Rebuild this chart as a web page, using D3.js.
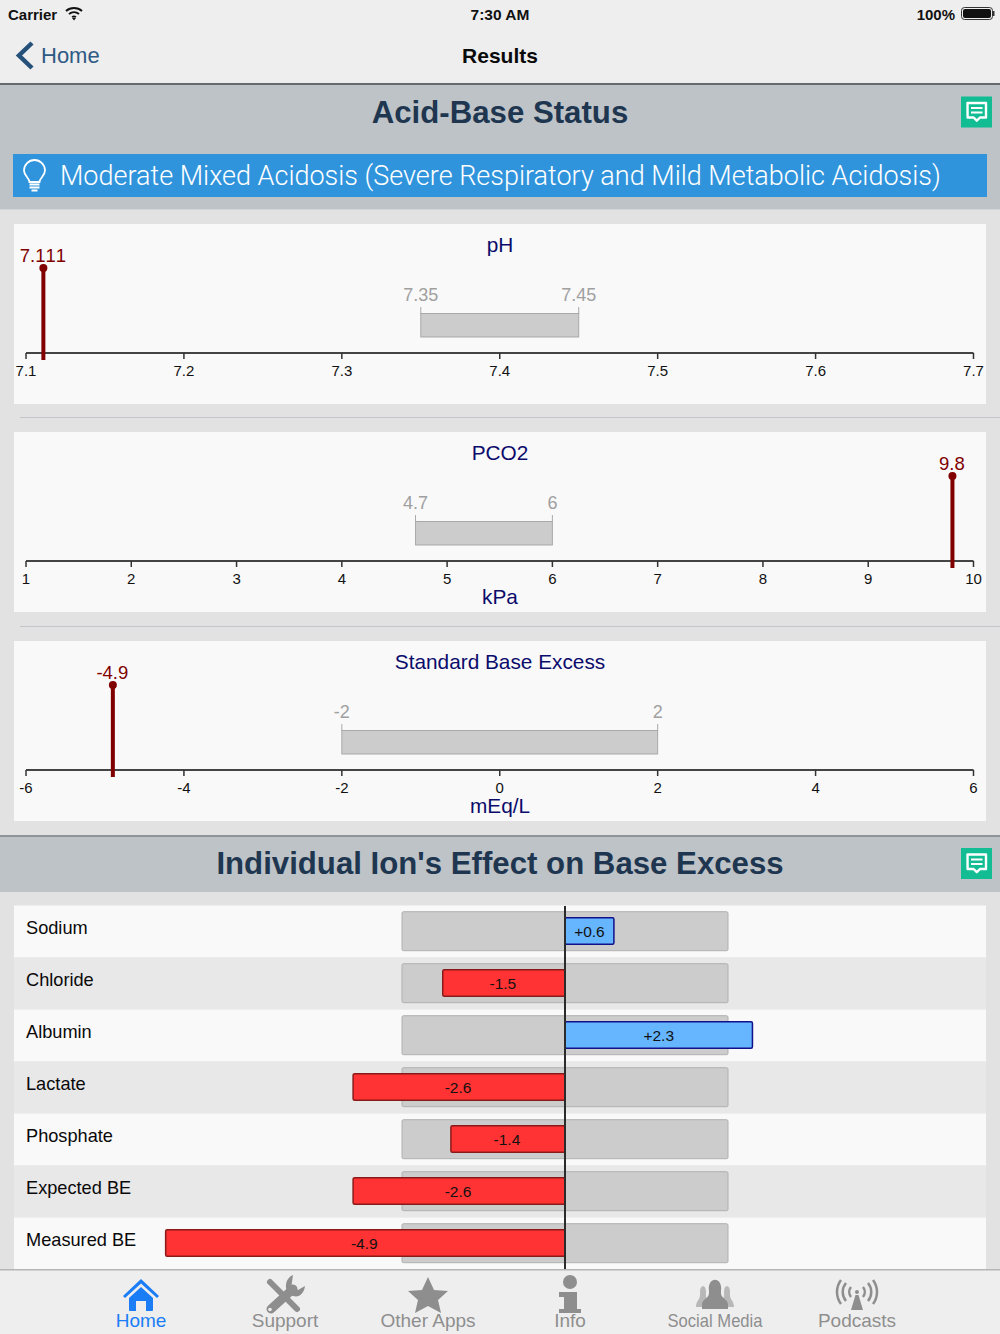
<!DOCTYPE html>
<html>
<head>
<meta charset="utf-8">
<script src="https://cdn.jsdelivr.net/npm/d3@7"></script>
<style>
  html, body { margin: 0; padding: 0; background: #e2e2e2; }
  svg { display: block; }
  text { font-family: "Liberation Sans", Arial, sans-serif; }
  .light { font-family: Roboto, "Liberation Sans", sans-serif; font-weight: 300; }
</style>
</head>
<body>
<div id="chart"></div>
<script>
// gauge data
var phTicks = [7.1, 7.2, 7.3, 7.4, 7.5, 7.6, 7.7];
var phRange = [7.35, 7.45];
var phValue = 7.111;

var pco2Ticks = [1, 2, 3, 4, 5, 6, 7, 8, 9, 10];
var pco2Range = [4.7, 6];
var pco2Value = 9.8;

var sbeTicks = [-6, -4, -2, 0, 2, 4, 6];
var sbeRange = [-2, 2];
var sbeValue = -4.9;

// ion data
var ionNames = ["Sodium", "Chloride", "Albumin", "Lactate", "Phosphate", "Expected BE", "Measured BE"];
var ionValues = [0.6, -1.5, 2.3, -2.6, -1.4, -2.6, -4.9];
var ionRange = [-2, 2];

var tabNames = ["Home", "Support", "Other Apps", "Info", "Social Media", "Podcasts"];

var svgWidth = 1000;
var svgHeight = 1334;

var svg = d3.select("#chart")
  .append("svg")
  .attr("width", svgWidth)
  .attr("height", svgHeight);

function rect(x, y, w, h, fill) {
  return svg.append("rect").attr("x", x).attr("y", y).attr("width", w).attr("height", h).attr("fill", fill);
}

function label(parent, x, y, str, size, fill, anchor, weight) {
  return parent.append("text")
    .attr("x", x).attr("y", y)
    .attr("font-size", size)
    .attr("fill", fill)
    .attr("text-anchor", anchor || "middle")
    .attr("font-weight", weight || "normal")
    .text(str);
}

// page background, nav bar and section headers
rect(0, 0, 1000, 84, "#eeeeee");
rect(0, 83, 1000, 2, "#666a6d");
rect(0, 85, 1000, 124, "#bdc3c7");
rect(0, 209, 1000, 1, "#d4d6d8");

label(svg, 8, 20, "Carrier", 15, "#111", "start", "bold");
svg.append("path")
  .attr("d", "M66 11 A12 12 0 0 1 82 11 M69 14 A8 8 0 0 1 79 14 M72 17 A4 4 0 0 1 76 17")
  .attr("fill", "none").attr("stroke", "#111").attr("stroke-width", 2);
svg.append("path").attr("d", "M72 18 L76 18 L74 20.5 Z").attr("fill", "#111");
label(svg, 500, 20, "7:30 AM", 15.5, "#111", "middle", "bold");
label(svg, 955, 20, "100%", 15, "#111", "end", "bold");
svg.append("rect").attr("x", 961.5).attr("y", 7.5).attr("width", 31).attr("height", 12).attr("rx", 3)
  .attr("fill", "none").attr("stroke", "#333");
rect(963, 9, 28, 9, "#111").attr("rx", 2);
rect(993, 11, 1.5, 5, "#333");

svg.append("path")
  .attr("d", "M32 43 L19 55.5 L32 68")
  .attr("fill", "none").attr("stroke", "#24507a").attr("stroke-width", 4.5);
label(svg, 41, 63, "Home", 22, "#2f5a84", "start");
label(svg, 500, 63, "Results", 21, "#0a0a0a", "middle", "bold");

label(svg, 500, 123, "Acid-Base Status", 31.2, "#1f3650", "middle", "bold");

function noteIcon(x, y) {
  rect(x, y, 31, 31, "#12bd94");
  svg.append("path")
    .attr("d", "M" + (x + 6.5) + " " + (y + 6.5) + " h18.5 v14.5 h-6 l-3.2 3.2 l-3.2 -3.2 h-6 z")
    .attr("fill", "none").attr("stroke", "#fff").attr("stroke-width", 2.4).attr("stroke-linejoin", "round");
  svg.append("path")
    .attr("d", "M" + (x + 10) + " " + (y + 11.5) + " h11.5 M" + (x + 10) + " " + (y + 16) + " h11.5")
    .attr("stroke", "#fff").attr("stroke-width", 2);
}
noteIcon(961, 96.5);

// status banner
rect(13, 154, 974, 43, "#3094dc");
svg.append("path")
  .attr("d", "M29.5 182 C29.5 178 24 176 24 170.5 A10.5 10.5 0 0 1 45 170.5 C45 176 39.5 178 39.5 182 Z")
  .attr("fill", "none").attr("stroke", "#fff").attr("stroke-width", 1.8);
svg.append("path")
  .attr("d", "M29.5 184.5 h10 M29.5 187.5 h10 M31.5 190.5 h6")
  .attr("stroke", "#fff").attr("stroke-width", 2);
label(svg, 60, 184.5, "Moderate Mixed Acidosis (Severe Respiratory and Mild Metabolic Acidosis)", 27, "#fff", "start")
  .classed("light", true);

// gauges
function drawGauge(top, title, unit, ticks, range, value, fmt) {
  var g = svg.append("g").attr("transform", "translate(0," + top + ")");
  g.append("rect").attr("x", 14).attr("y", 0).attr("width", 972).attr("height", 180).attr("fill", "#f9f9f9");

  var x = d3.scaleLinear().domain([ticks[0], ticks[ticks.length - 1]]).range([26, 973.5]);

  label(g, 500, 27.5, title, 20.8, "#0b0b6b");
  if (unit) label(g, 500, 172, unit, 20.8, "#0b0b6b");

  // normal range bar
  g.append("rect")
    .attr("x", x(range[0])).attr("y", 89.5)
    .attr("width", x(range[1]) - x(range[0])).attr("height", 23.5)
    .attr("fill", "#cccccc").attr("stroke", "#a9a9a9");
  range.forEach(function(d) {
    g.append("line").attr("x1", x(d)).attr("x2", x(d)).attr("y1", 83).attr("y2", 90).attr("stroke", "#a9a9a9");
    label(g, x(d), 77, d, 18, "#a0a0a0");
  });

  var axis = d3.axisBottom(x)
    .tickValues(ticks)
    .tickFormat(function(d) { return fmt(d).replace("\u2212", "-"); })
    .tickSize(6)
    .tickSizeOuter(0)
    .offset(0);
  var axisG = g.append("g").attr("transform", "translate(0,129)").call(axis);
  axisG.select(".domain").attr("stroke", "#444").attr("stroke-width", 2);
  axisG.selectAll(".tick line").attr("stroke", "#333").attr("stroke-width", 1.5);
  axisG.selectAll(".tick text")
    .attr("font-family", "Liberation Sans")
    .attr("font-size", 15)
    .attr("fill", "#111")
    .attr("y", 12.5);

  // measured value
  g.append("line")
    .attr("x1", x(value)).attr("x2", x(value))
    .attr("y1", 44).attr("y2", 136)
    .attr("stroke", "#800000").attr("stroke-width", 4);
  g.append("circle").attr("cx", x(value)).attr("cy", 44).attr("r", 4).attr("fill", "#800000");
  label(g, x(value) - 0.5, 38, value, 18.5, "#800000")
    .style("font-kerning", "none");
}

drawGauge(224, "pH", null, phTicks, phRange, phValue, d3.format(".1f"));
rect(20, 417, 980, 1, "#c4c6cb");
drawGauge(432, "PCO2", "kPa", pco2Ticks, pco2Range, pco2Value, d3.format("d"));
rect(20, 626, 980, 1, "#c4c6cb");
drawGauge(641, "Standard Base Excess", "mEq/L", sbeTicks, sbeRange, sbeValue, d3.format("d"));

// second section
rect(0, 835, 1000, 2, "#8f9599");
rect(0, 837, 1000, 55, "#bdc3c7");
label(svg, 500, 874, "Individual Ion's Effect on Base Excess", 31.2, "#1f3650", "middle", "bold");
noteIcon(961, 848);

// ion rows
var rowScale = d3.scaleBand().domain(ionNames).range([905.5, 1269.5]);
var ionX = d3.scaleLinear().domain(ionRange).range([402, 728]);

var rows = svg.selectAll(".row")
  .data(ionNames)
  .enter()
  .append("g")
  .attr("class", "row")
  .attr("transform", function(d) { return "translate(0," + rowScale(d) + ")"; });

rows.append("rect")
  .attr("x", 14).attr("y", 0).attr("width", 972).attr("height", rowScale.bandwidth())
  .attr("fill", function(d, i) { return i % 2 ? "#e8e8e8" : "#f9f9f9"; });

rows.append("rect")
  .attr("x", ionX(ionRange[0])).attr("y", 6.2)
  .attr("width", ionX(ionRange[1]) - ionX(ionRange[0])).attr("height", 39)
  .attr("rx", 1.5)
  .attr("fill", "#cccccc").attr("stroke", "#b0b0b0");

rows.append("text")
  .attr("x", 26).attr("y", 28.5)
  .attr("font-size", 18.2)
  .attr("fill", "#0a0a0a")
  .text(function(d) { return d; });

rows.append("rect")
  .data(ionValues)
  .attr("x", function(d) { return Math.min(ionX(0), ionX(d)); })
  .attr("y", 12.3)
  .attr("width", function(d) { return Math.abs(ionX(d) - ionX(0)); })
  .attr("height", 26.5)
  .attr("rx", 1.5)
  .attr("fill", function(d) { return d < 0 ? "#ff3333" : "#66b5ff"; })
  .attr("stroke", function(d) { return d < 0 ? "#8a1a1a" : "#10108a"; })
  .attr("stroke-width", 1.5);

rows.append("text")
  .data(ionValues)
  .attr("x", function(d) { return (ionX(0) + ionX(d)) / 2 - (d < 0 ? 1 : 0); })
  .attr("y", 31.5)
  .attr("text-anchor", "middle")
  .attr("font-size", 15.5)
  .attr("fill", "#111")
  .text(function(d) { return (d > 0 ? "+" : "") + d; });

svg.append("line")
  .attr("x1", ionX(0)).attr("x2", ionX(0))
  .attr("y1", 906).attr("y2", 1270)
  .attr("stroke", "#2b2b2b").attr("stroke-width", 2);

// tab bar
rect(0, 1269.5, 1000, 64.5, "#eeeeee");
rect(0, 1269, 1000, 1.5, "#b5b5b5");

var tabX = [141, 285, 428, 570, 715, 857];
var tabColor = ["#1a7df5", "#8e8e8e", "#8e8e8e", "#8e8e8e", "#8e8e8e", "#8e8e8e"];

svg.selectAll(".tab")
  .data(tabNames)
  .enter()
  .append("text")
  .attr("class", "tab")
  .attr("x", function(d, i) { return tabX[i]; })
  .attr("y", 1327)
  .attr("text-anchor", "middle")
  .attr("font-size", 19)
  .attr("fill", function(d, i) { return tabColor[i]; })
  .attr("textLength", function(d) { return d === "Social Media" ? 95 : null; })
  .attr("lengthAdjust", "spacingAndGlyphs")
  .text(function(d) { return d; });

var icons = svg.append("g");
// home
icons.append("path")
  .attr("d", "M123 1296 L141 1279 L159 1296 L157 1298 L141 1283.5 L125 1298 Z M129 1298 L141 1287 L153 1298 L153 1310 Q153 1311 152 1311 L146 1311 L146 1301 L136 1301 L136 1311 L130 1311 Q129 1311 129 1310 Z")
  .attr("fill", "#1a7df5");
// support
icons.append("path")
  .attr("d", "M270 1282 L297 1309")
  .attr("stroke", "#8e8e8e").attr("stroke-width", 6).attr("stroke-linecap", "round");
icons.append("path")
  .attr("d", "M271 1309 L293 1289")
  .attr("stroke", "#8e8e8e").attr("stroke-width", 9).attr("stroke-linecap", "round");
icons.append("path")
  .attr("d", "M293 1275 C284 1279 284 1291 291 1295 C298 1299 304 1294 305 1286 L298 1290 L291.5 1285.5 Z")
  .attr("fill", "#8e8e8e");
icons.append("circle").attr("cx", 270).attr("cy", 1309.5).attr("r", 1.8).attr("fill", "#eeeeee");
// other apps
icons.append("path")
  .attr("d", "M428 1277 L434 1290 L448 1291 L438 1300 L441 1313 L428 1306 L415 1313 L418 1300 L408 1291 L422 1290 Z")
  .attr("fill", "#8e8e8e");
// info
icons.append("circle").attr("cx", 570).attr("cy", 1282).attr("r", 7).attr("fill", "#8e8e8e");
icons.append("path")
  .attr("d", "M559 1292 L577 1292 L577 1309 L581 1309 L581 1313 L559 1313 L559 1309 L564 1309 L564 1297 L559 1297 Z")
  .attr("fill", "#8e8e8e");
// social media
icons.selectAll(".side")
  .data([703, 727])
  .enter()
  .append("path")
  .attr("d", function(d) { return "M" + (d - 7) + " 1307 C" + (d - 7) + " 1300 " + (d - 2) + " 1300 " + (d - 3) + " 1292 C" + (d - 3) + " 1284 " + (d + 3) + " 1284 " + (d + 3) + " 1292 C" + (d + 2) + " 1300 " + (d + 7) + " 1300 " + (d + 7) + " 1307 Z"; })
  .attr("fill", "#b8b8b8");
icons.append("path")
  .attr("d", "M702 1309 L702 1304 C703 1298 710 1299 709 1291 C707 1276 723 1276 721 1291 C720 1299 727 1298 728 1304 L728 1309 Z")
  .attr("fill", "#8e8e8e");
// podcasts
icons.append("path")
  .attr("d", "M851 1310 L855.5 1295 L858.5 1295 L863 1310 Z")
  .attr("fill", "#8e8e8e");
icons.append("circle").attr("cx", 857).attr("cy", 1292).attr("r", 2).attr("fill", "#8e8e8e");
icons.append("path")
  .attr("d", "M851 1287 A8 8 0 0 0 851 1297 M863 1287 A8 8 0 0 1 863 1297 M846 1283 A14 14 0 0 0 846 1301 M868 1283 A14 14 0 0 1 868 1301 M841 1280 A20 20 0 0 0 841 1304 M873 1280 A20 20 0 0 1 873 1304")
  .attr("fill", "none").attr("stroke", "#8e8e8e").attr("stroke-width", 2.5);
</script>
</body>
</html>
